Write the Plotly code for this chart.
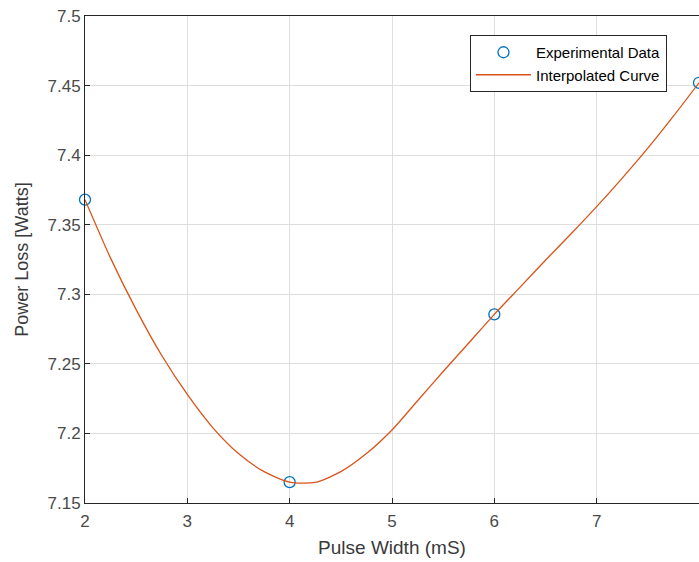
import plotly.graph_objects as go

# Experimental data
exp_x = [2, 4, 6, 8]
exp_y = [7.368, 7.165, 7.2856, 7.452]

# Interpolated curve
curve_x = [2, 2.25, 2.5, 2.75, 3, 3.25, 3.5, 3.75, 4, 4.25, 4.5, 4.75, 5,
           5.25, 5.5, 5.75, 6, 6.25, 6.5, 6.75, 7, 7.25, 7.5, 7.75, 8]
curve_y = [7.368, 7.326, 7.289, 7.256, 7.228, 7.204, 7.1855, 7.1725, 7.165,
           7.1648, 7.1725, 7.1855, 7.2025, 7.2235, 7.2445, 7.265, 7.2856,
           7.305, 7.3245, 7.3435, 7.363, 7.3835, 7.405, 7.428, 7.452]

x_ticks = [2, 3, 4, 5, 6, 7, 8]
y_ticks = [7.15, 7.2, 7.25, 7.3, 7.35, 7.4, 7.45, 7.5]
y_tick_text = ["7.15", "7.2", "7.25", "7.3", "7.35", "7.4", "7.45", "7.5"]

FONT = "Liberation Sans, Arial, sans-serif"

fig = go.Figure()
fig.add_trace(go.Scatter(
    x=exp_x, y=exp_y, mode="markers", name="Experimental Data",
    marker=dict(symbol="circle-open", size=11, color="#0072BD", line=dict(width=1.3)),
    cliponaxis=False,
))
fig.add_trace(go.Scatter(
    x=curve_x, y=curve_y, mode="lines", name="Interpolated Curve",
    line=dict(color="#D95319", width=1.3, shape="spline", smoothing=0.7),
))

axis_common = dict(
    showgrid=True, gridcolor="#dedede", gridwidth=1,
    showline=True, linecolor="#262626", linewidth=1, mirror=True,
    ticks="inside", ticklen=5, tickcolor="#262626",
    tickfont=dict(family=FONT, size=17, color="#4a4a4a"),
    zeroline=False, automargin=False,
)

fig.update_layout(
    width=699, height=562,
    margin=dict(l=85, r=0, t=16, b=59),
    paper_bgcolor="white", plot_bgcolor="white",
    xaxis=dict(range=[2, 8], tickvals=x_ticks, ticklabelstandoff=3,
               title=dict(text="Pulse Width (mS)", standoff=10,
                          font=dict(family=FONT, size=19, color="#3a3a3a")),
               **axis_common),
    yaxis=dict(range=[7.15, 7.5], tickvals=y_ticks, ticktext=y_tick_text,
               title=dict(text="Power Loss [Watts]", standoff=14,
                          font=dict(family=FONT, size=18, color="#3a3a3a")),
               **axis_common),
    legend=dict(x=0.627, y=0.961, xanchor="left", yanchor="top",
                bgcolor="white", bordercolor="#262626", borderwidth=1,
                font=dict(family=FONT, size=15, color="#000000"),
                tracegroupgap=0, itemwidth=55),
    showlegend=True,
)

fig.write_html(
    "out.html",
    config={"displayModeBar": False},
    post_script="document.body.style.margin='0';document.body.style.overflow='hidden';",
)
